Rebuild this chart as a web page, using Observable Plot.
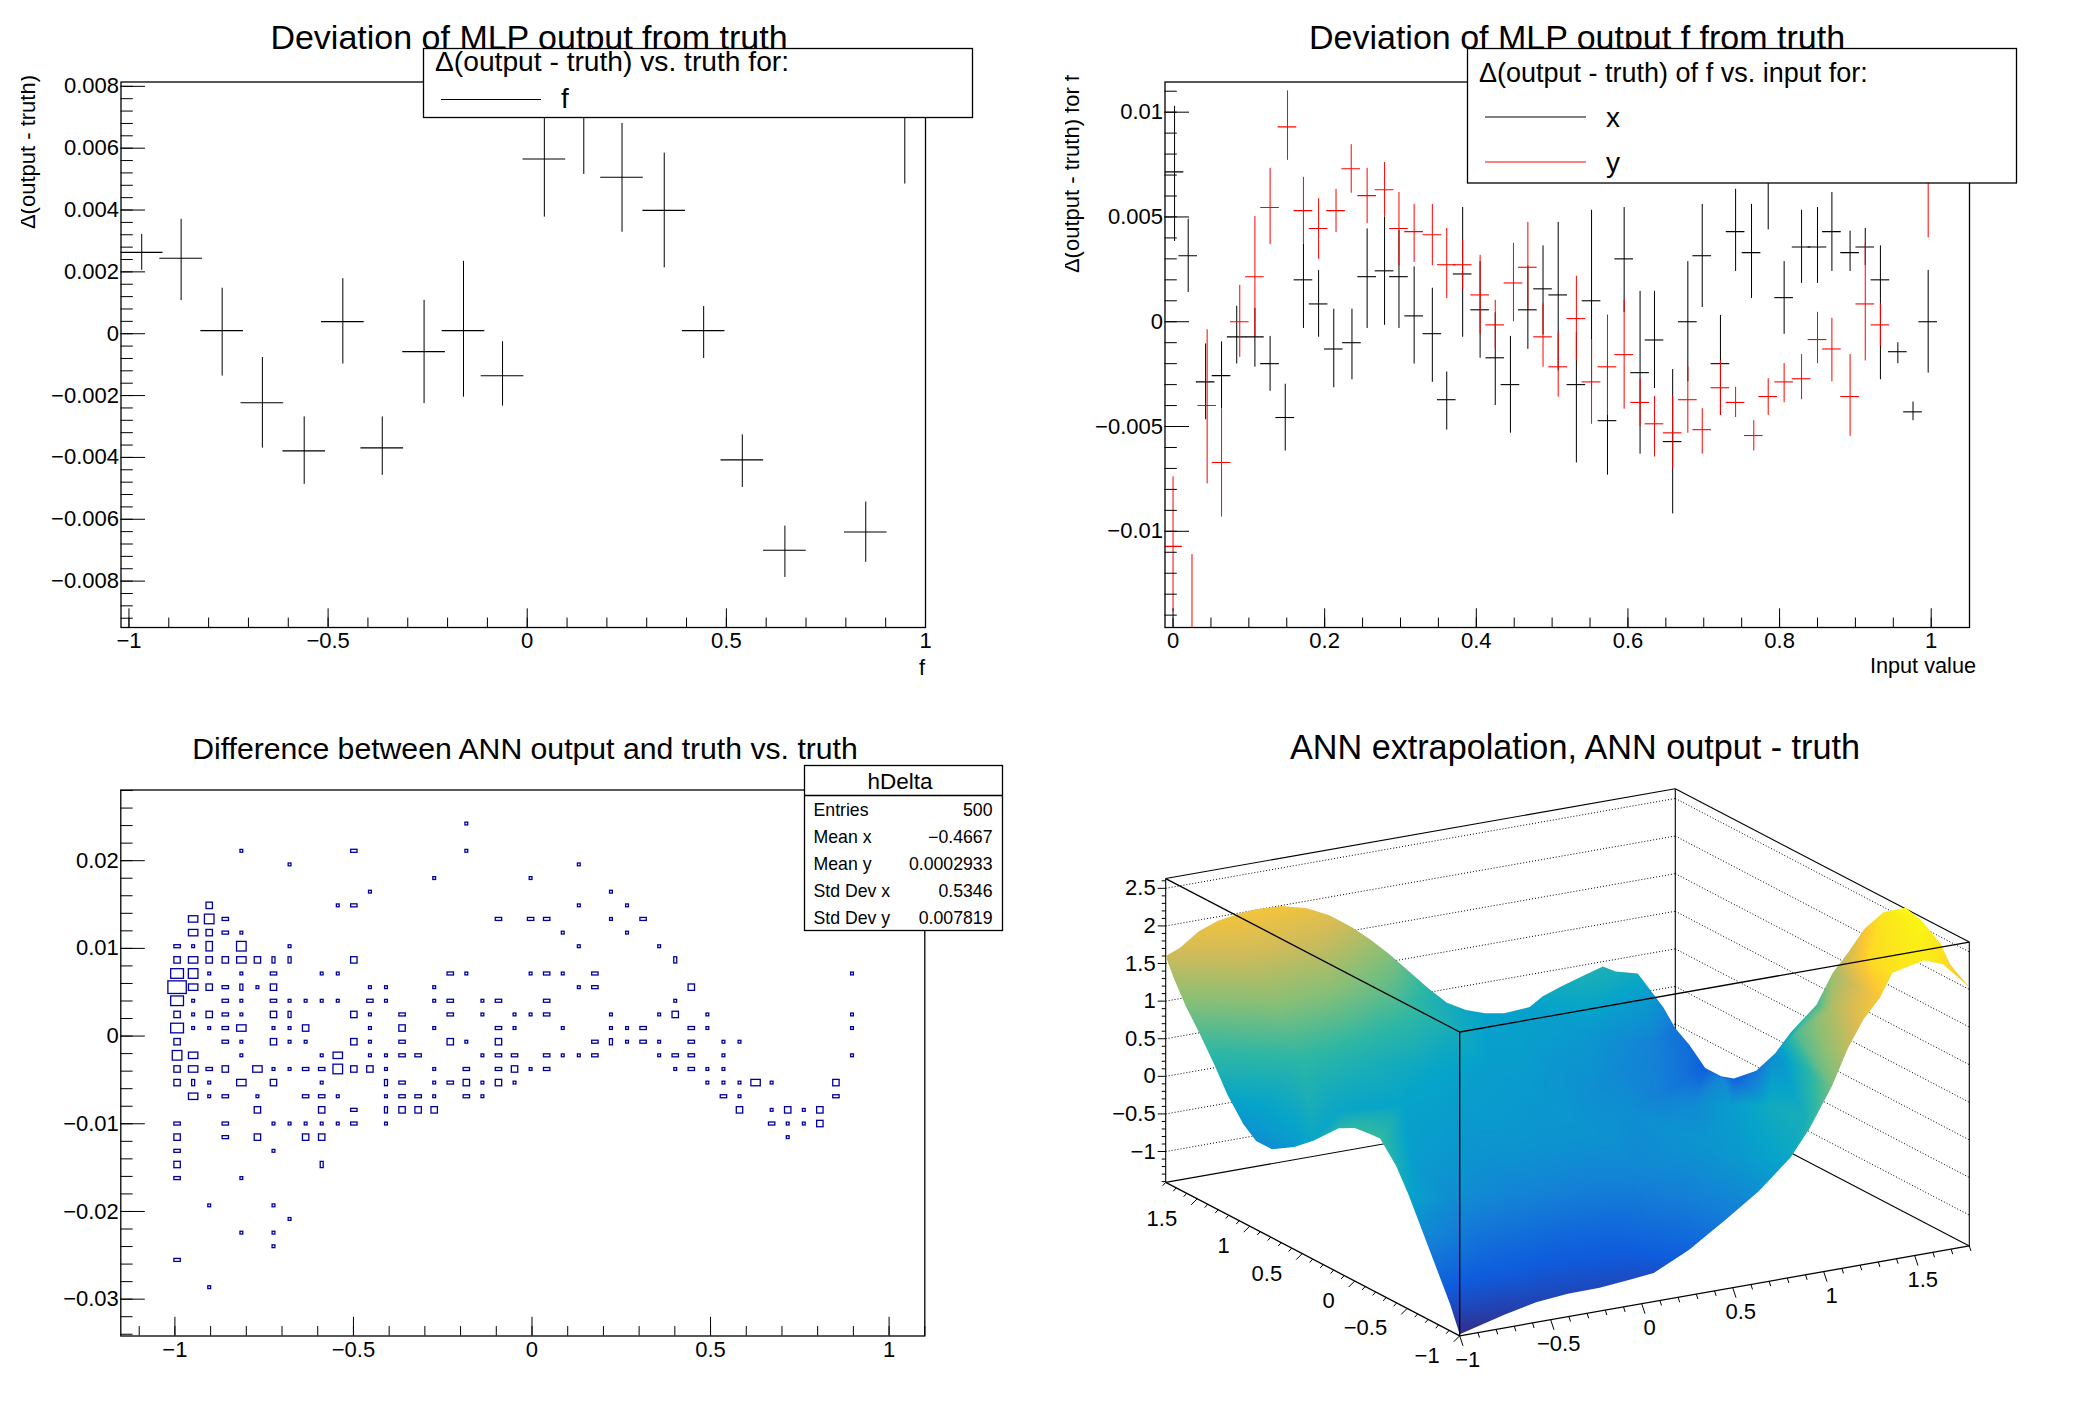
<!DOCTYPE html>
<html><head><meta charset="utf-8">
<script src="https://cdn.jsdelivr.net/npm/d3@7"></script>
<script src="https://cdn.jsdelivr.net/npm/@observablehq/plot@0.6"></script>
<style>
html,body{margin:0;padding:0;background:#fff;}
#page{position:relative;width:2088px;height:1416px;overflow:hidden;font-family:"Liberation Sans",Arial,sans-serif;}
#page>svg{position:absolute;}
</style></head><body><div id="page"></div>
<script>
// ---------- Panel 1: deviation vs truth ----------
const fX=[-0.968,-0.869,-0.766,-0.665,-0.560,-0.463,-0.364,-0.259,-0.160,-0.062,0.043,0.142,0.238,0.344,0.443,0.540,0.647,0.850,0.948];
const fY=[0.00263,0.00244,0.0001,-0.00223,-0.00379,0.00039,-0.00369,-0.00058,0.0001,-0.00136,0.00565,0.0073,0.00506,0.00399,0.0001,-0.00408,-0.0070,-0.00641,0.0075];
const fHi=[0.00321,0.0037,0.00147,-0.00077,-0.00269,0.00178,-0.00269,0.00108,0.00234,-0.00026,0.0076,0.0095,0.0068,0.00584,0.00088,-0.00327,-0.00622,-0.00544,0.0100];
const fLo=[0.00205,0.00107,-0.00137,-0.0037,-0.00487,-0.00098,-0.00458,-0.00226,-0.00205,-0.00234,0.00377,0.00515,0.00328,0.00213,-0.0008,-0.00497,-0.00788,-0.00739,0.00484];

// ---------- Panel 2: deviation vs input ----------
const inX=[0.002,0.020,0.043,0.064,0.084,0.108,0.128,0.148,0.172,0.192,0.212,0.236,0.256,0.279,0.298,0.318,0.342,0.361,0.382,0.405,0.425,0.445,0.468,0.488,0.508,0.532,0.552,0.573,0.595,0.616,0.635,0.659,0.679,0.698,0.722,0.742,0.763,0.785,0.806,0.829,0.850,0.869,0.893,0.913,0.933,0.956,0.976,0.996];
const inY=[0.00715,0.00315,-0.00287,-0.00257,-0.00072,-0.00072,-0.002,-0.00457,0.002,0.00085,-0.0013,-0.001,0.00215,0.00243,0.00215,0.00028,-0.00057,-0.00372,0.00228,0.00057,-0.00172,-0.003,0.00057,0.00157,0.00128,-0.003,0.001,-0.00472,0.003,-0.00243,-0.00087,-0.00572,0,0.00315,-0.002,0.0043,0.0033,0.007,0.00115,0.00357,0.00357,0.0043,0.0033,0.00357,0.002,-0.00143,-0.0043,0];
const inHi=[0.01028,0.00489,-0.00106,-0.00096,0.00074,0.00064,-0.0007,-0.00298,0.00372,0.00245,0.0006,0.0006,0.00443,0.005,0.00436,0.00262,0.0016,-0.0024,0.00545,0.00287,0.00043,-0.0007,0.00266,0.00362,0.00474,-0.00053,0.00532,-0.00191,0.00545,0.00145,0.00145,-0.00228,0.00287,0.0056,0.0003,0.00632,0.0056,0.0095,0.00287,0.00532,0.00545,0.00617,0.00432,0.00445,0.00362,-0.001,-0.00383,0.00245];
const inLo=[0.00383,0.0014,-0.00468,-0.00415,-0.00202,-0.00217,-0.00332,-0.00617,-0.00032,-0.00074,-0.00315,-0.00277,-0.00032,-0.00017,-0.00032,-0.00202,-0.00289,-0.00517,-0.00074,-0.00174,-0.004,-0.00532,-0.00132,-0.00064,-0.00234,-0.00674,-0.00319,-0.00732,0.00043,-0.00632,-0.00319,-0.00917,-0.00287,0.00068,-0.00447,0.0024,0.00111,0.00438,-0.0006,0.00183,0.00183,0.0024,0.0024,0.00268,-0.00277,-0.002,-0.00472,-0.00245];

const redX=[0,0.025,0.045,0.064,0.088,0.108,0.128,0.151,0.172,0.192,0.215,0.235,0.256,0.279,0.298,0.318,0.342,0.361,0.382,0.405,0.425,0.449,0.468,0.488,0.508,0.532,0.552,0.573,0.595,0.616,0.635,0.659,0.679,0.698,0.722,0.742,0.766,0.785,0.806,0.829,0.850,0.869,0.893,0.913,0.933,0.996];
const redY=[-0.01072,-0.015,-0.004,-0.00672,0,0.00215,0.00545,0.0093,0.0053,0.00445,0.0053,0.0073,0.00602,0.0063,0.00445,0.0043,0.00415,0.00272,0.00272,0.00128,-0.00015,0.00185,0.0026,-0.00072,-0.00215,0.00015,-0.00287,-0.00215,-0.00157,-0.00385,-0.00487,-0.0053,-0.00372,-0.00515,-0.00315,-0.00385,-0.00543,-0.00357,-0.00287,-0.00272,-0.00085,-0.0013,-0.00357,0.00085,-0.00015,0.0072];
const redHi=[-0.0074,-0.01111,-0.00038,-0.00415,0.00174,0.00502,0.00732,0.01102,0.00689,0.00587,0.00632,0.00845,0.00732,0.0076,0.00617,0.0056,0.0056,0.00445,0.00387,0.00317,0.00102,0.00374,0.00474,0.00085,-0.00053,0.00217,-0.00085,0.00032,0.00102,-0.00272,-0.00357,-0.00357,-0.00215,-0.00415,-0.00185,-0.00313,-0.00472,-0.00272,-0.002,-0.00157,0.00045,0.00017,-0.00157,0.00372,0.00085,0.0105];
const redLo=[-0.01383,-0.019,-0.00774,-0.00932,-0.0017,-0.00072,0.00368,0.0077,0.00372,0.00298,0.00426,0.00613,0.00468,0.005,0.00266,0.00283,0.00268,0.00111,0.00153,-0.0006,-0.00128,0,0.00057,-0.00217,-0.0036,-0.00187,-0.00489,-0.00447,-0.00417,-0.005,-0.00645,-0.00702,-0.00532,-0.00632,-0.00447,-0.00457,-0.00617,-0.00447,-0.00387,-0.00372,-0.002,-0.00287,-0.00547,-0.00187,-0.00117,0.004];

// ---------- Panel 3: 2-D histogram (y bin value, then [x bin index, box class]) ----------
const histRowY=[0.02418,0.02107,0.01952,0.01796,0.01641,0.01485,0.0133,0.01174,0.01019,0.00863,0.00708,0.00552,0.00397,0.00241,0.00086,-0.0007,-0.00225,-0.00381,-0.00536,-0.00692,-0.00847,-0.01003,-0.01158,-0.01314,-0.0147,-0.01625,-0.01936,-0.02091,-0.02247,-0.02402,-0.02558,-0.02869];
const histRowCells=[
[[18,1]],
[[4,1],[11,2],[18,1]],
[[7,1],[25,1]],
[[16,1],[22,1]],
[[12,1],[27,1]],
[[2,4],[10,1],[11,2],[25,1],[28,1]],
[[1,5],[2,6],[3,2],[20,2],[22,2],[23,2],[27,1],[29,2]],
[[1,5],[2,4],[3,2],[4,1],[24,1],[28,1]],
[[0,2],[1,1],[2,9],[4,6],[7,1],[25,1],[30,1]],
[[0,4],[1,5],[2,4],[3,4],[4,5],[5,4],[6,3],[7,3],[11,4],[31,3]],
[[0,7],[1,6],[2,1],[4,1],[6,2],[9,1],[10,1],[17,2],[18,1],[22,1],[23,2],[24,1],[26,2],[42,1]],
[[0,8],[1,5],[2,4],[3,2],[4,3],[5,1],[6,4],[12,1],[13,1],[16,1],[25,1],[26,2],[32,4]],
[[0,7],[1,1],[3,2],[4,1],[6,2],[7,1],[8,1],[9,1],[10,1],[12,2],[13,1],[16,1],[17,2],[19,1],[20,2],[23,2],[31,1]],
[[0,4],[1,1],[2,4],[3,2],[4,1],[6,4],[7,3],[11,4],[12,1],[14,2],[17,2],[19,1],[21,1],[22,1],[23,2],[27,1],[30,1],[31,4],[33,1],[42,1]],
[[0,7],[1,1],[2,1],[3,2],[4,5],[6,1],[7,1],[8,4],[12,1],[14,4],[16,1],[20,2],[21,1],[24,1],[27,1],[28,1],[29,2],[32,2],[33,1],[42,1]],
[[0,4],[3,2],[4,1],[6,4],[7,1],[8,1],[11,4],[12,1],[14,2],[17,4],[18,1],[20,4],[26,2],[27,3],[28,1],[29,2],[30,1],[32,2],[34,1],[35,1]],
[[0,6],[1,5],[4,1],[9,1],[10,5],[12,1],[13,1],[14,2],[15,2],[19,1],[20,2],[21,2],[23,2],[24,1],[25,1],[26,2],[30,1],[31,2],[32,2],[34,1],[42,1]],
[[0,4],[1,5],[2,2],[3,4],[5,5],[6,1],[7,1],[8,2],[9,2],[10,6],[11,4],[12,4],[13,1],[16,1],[18,2],[20,2],[21,4],[22,1],[23,2],[31,1],[32,2],[33,1],[34,1]],
[[0,4],[1,3],[2,1],[4,5],[6,4],[9,1],[13,3],[14,2],[16,1],[17,2],[18,4],[19,1],[20,4],[21,1],[33,1],[34,1],[35,1],[36,5],[37,1],[41,4]],
[[1,5],[2,1],[3,2],[5,1],[8,2],[9,2],[10,1],[13,1],[14,2],[15,2],[16,1],[18,2],[19,1],[34,2],[35,1],[41,2]],
[[5,4],[9,4],[11,2],[13,3],[14,4],[15,4],[16,4],[35,4],[37,1],[38,4],[39,1],[40,4]],
[[0,2],[3,2],[6,1],[7,1],[8,1],[9,1],[10,1],[11,2],[13,1],[37,2],[38,1],[39,1],[40,4]],
[[0,4],[3,2],[5,4],[8,4],[9,4],[38,1]],
[[0,2],[6,1]],
[[0,4],[9,3]],
[[0,2],[4,1]],
[[2,1],[6,1]],
[[7,1]],
[[4,1],[6,1]],
[[6,1]],
[[0,2]],
[[2,1]]
];

// ---------- Panel 4: surface read along its four edges and at inner nodes ----------
const edgeFrontX=[-1,-0.755,-0.58,-0.406,-0.231,-0.056,0.066,0.259,0.469,0.643,0.818,0.923,1.045,1.133,1.22,1.308,1.378,1.552,1.657,1.8];
const edgeFrontZ=[-1.39,-1.236,-1.143,-1.106,-1.098,-1.061,-1.03,-0.805,-0.476,-0.188,0.184,0.53,1.037,1.502,1.855,2.097,2.402,2.495,2.394,2.03];
const edgeRightY=[-1,-0.818,-0.727,-0.545,-0.394,-0.182,0,0.152,0.303,0.455,0.697,0.848,1.03,1.242,1.364,1.515,1.667,1.8];
const edgeRightZ=[2.03,2.2,2.41,2.587,2.644,2.432,2.076,1.657,1.267,0.737,0.197,-0.193,-0.561,-0.816,-0.878,-0.876,-0.68,-0.555];
const edgeBackX=[-1,-0.923,-0.818,-0.713,-0.608,-0.503,-0.364,-0.224,-0.101,0.021,0.126,0.231,0.336,0.441,0.545,0.65,0.755,0.86,1.0,1.07,1.175,1.297,1.402,1.472,1.594,1.647,1.734,1.8];
const edgeBackZ=[1.6,1.674,1.853,1.948,1.987,2.009,1.992,1.903,1.758,1.549,1.336,1.096,0.827,0.558,0.318,0.178,0.088,0.044,0.067,0.177,0.271,0.359,0.436,0.339,0.259,0.069,-0.248,-0.555];
const edgeLeftY=[-1,-0.909,-0.788,-0.636,-0.515,-0.394,-0.242,-0.152,0,0.152,0.394,0.576,0.788,0.939,1.06,1.212,1.333,1.485,1.606,1.727,1.8];
const edgeLeftZ=[-1.39,-1.058,-0.7,-0.253,0.107,0.409,0.661,0.651,0.624,0.512,0.168,-0.049,-0.232,-0.231,-0.097,0.182,0.484,0.822,1.068,1.37,1.6];
const innerX=[-0.65,-0.3,0.05,0.4,0.75,1.1,1.45];
const innerY=[-0.65,-0.3,0.05,0.4,0.75,1.1,1.45];
const innerZ=[
[-0.75,-0.85,-0.8,-0.45,-0.05,0.35,2.3],
[-0.2,-0.35,-0.4,-0.3,-0.1,0.25,1.4],
[0,-0.15,-0.15,-0.15,-0.15,0,0.8],
[0.05,0,-0.05,-0.1,-0.2,-0.25,0.15],
[0.15,0.1,0,-0.05,-0.2,-0.4,-0.3],
[0.6,0.4,0.15,0,-0.1,-0.3,-0.6],
[1.3,1.2,0.8,0.3,0.05,-0.05,-0.35]];
const zTicks=[-1,-0.5,0,0.5,1,1.5,2,2.5];
const xyTicks=[-1,-0.5,0,0.5,1,1.5];
const statNames=["Entries","Mean x","Mean y","Std Dev x","Std Dev y"];
const statValues=["500","−0.4667","0.0002933","0.5346","0.007819"];

// ---------- helpers ----------
const page=document.getElementById("page");
const minus=d=>String(d).replace("-","−");
const M={marginLeft:120.5,marginRight:119,marginTop:81.5,marginBottom:81};
const FS="Liberation Sans";
function place(svg,left,top){svg.style.left=left+"px";svg.style.top=top+"px";page.appendChild(svg);}
function axisMarks(xd,yd,xMaj,xMin,yMaj,yMin){
  const xs=(xd[1]-xd[0])/803.5, ys=(yd[1]-yd[0])/545.5;
  const inX=d=>d>=xd[0]&&d<=xd[1], inY=d=>d>=yd[0]&&d<=yd[1];
  return [
    Plot.ruleX(xMaj.filter(inX),{x:d=>d,y1:yd[0],y2:yd[0]+18.7*ys,stroke:"#000",strokeWidth:1}),
    Plot.ruleX(xMin.filter(inX),{x:d=>d,y1:yd[0],y2:yd[0]+9.4*ys,stroke:"#000",strokeWidth:1}),
    Plot.ruleY(yMaj.filter(inY),{y:d=>d,x1:xd[0],x2:xd[0]+24.5*xs,stroke:"#000",strokeWidth:1}),
    Plot.ruleY(yMin.filter(inY),{y:d=>d,x1:xd[0],x2:xd[0]+12.3*xs,stroke:"#000",strokeWidth:1}),
    Plot.axisX({ticks:xMaj.filter(inX),tickSize:0,tickPadding:5,tickFormat:minus,label:null,fontSize:22}),
    Plot.axisY({ticks:yMaj.filter(inY),tickSize:0,tickPadding:2,tickFormat:minus,label:null,fontSize:22}),
    Plot.frame({stroke:"#000",strokeWidth:1.3})
  ];
}
const errs=(xs,ys,hi,lo,hw,color)=>{
  const t=xs.map((x,i)=>({x,y:ys[i],hi:hi[i],lo:lo[i]}));
  return [
    Plot.ruleX(t,{x:"x",y1:"lo",y2:"hi",stroke:color,strokeWidth:1,clip:true}),
    Plot.ruleY(t,{y:"y",x1:d=>d.x-hw,x2:d=>d.x+hw,stroke:color,strokeWidth:1.1,clip:true})
  ];
};
const base={width:1044,height:708,...M,style:{fontFamily:FS,color:"#000",background:"transparent",overflow:"visible"}};

// Panel 1
{
  const xd=[-1.02,1], yd=[-0.0095,0.00814];
  place(Plot.plot({...base,x:{domain:xd},y:{domain:yd},marks:[
    ...errs(fX,fY,fHi,fLo,0.0535,"#000"),
    ...axisMarks(xd,yd,[-1,-0.5,0,0.5,1],d3.range(-1,1.01,0.1).map(v=>+v.toFixed(1)),
      [-0.008,-0.006,-0.004,-0.002,0,0.002,0.004,0.006,0.008],d3.range(-0.0092,0.0081,0.0004).map(v=>+v.toFixed(4)))
  ]}),0,0);
}
// Panel 2
{
  const xd=[-0.0106,1.0505], yd=[-0.01459,0.01144];
  place(Plot.plot({...base,x:{domain:xd},y:{domain:yd},marks:[
    ...errs(inX,inY,inHi,inLo,0.0123,"#000"),
    ...errs(redX,redY,redHi,redLo,0.0123,"#ff0000"),
    ...axisMarks(xd,yd,[0,0.2,0.4,0.6,0.8,1],d3.range(0,1.04,0.05).map(v=>+v.toFixed(2)),
      [-0.01,-0.005,0,0.005,0.01],d3.range(-0.014,0.0111,0.001).map(v=>+v.toFixed(3)))
  ]}),1044,0);
}
// Panel 3
{
  const xd=[-1.1515,1.1], yd=[-0.0342,0.02806];
  const binX=k=>-0.9925+0.045*k;
  const boxSize={1:[2.8,2.8],2:[6.4,3],3:[3,6.2],4:[6.4,6.4],5:[9.4,6.4],6:[9.6,9.6],7:[12.8,9.6],8:[18.4,12.6],9:[6.4,9.4]};
  const cells=histRowY.flatMap((y,j)=>histRowCells[j].map(([k,c])=>{
    const [w,h]=boxSize[c], hw=w/2/357.3, hh=h/2/8760;
    return {x1:binX(k)-hw,x2:binX(k)+hw,y1:y-hh,y2:y+hh};
  }));
  place(Plot.plot({...base,marginLeft:120.3,marginRight:119.7,marginBottom:80.5,x:{domain:xd},y:{domain:yd},marks:[
    Plot.rect(cells,{x1:"x1",x2:"x2",y1:"y1",y2:"y2",fill:"none",stroke:"#0000a0",strokeWidth:1.3}),
    ...axisMarks(xd,yd,[-1,-0.5,0,0.5,1],d3.range(-1.1,1.11,0.1).map(v=>+v.toFixed(1)),
      [-0.03,-0.02,-0.01,0,0.01,0.02],d3.range(-0.034,0.0281,0.002).map(v=>+v.toFixed(3)))
  ]}),0,708);
}
// Panel 4
{
  const xMin=-1,yMin=-1,zMin=-1.41,top=2.63,far=1.8;
  const P=(x,y,z)=>({px:415.2+182*(x-xMin)-105*(y-yMin),py:627.3-32.1*(x-xMin)-54.8*(y-yMin)-75.2*(z-zMin)});
  const edge=[
    ...edgeFrontX.map((x,i)=>({...P(x,yMin,edgeFrontZ[i]),z:edgeFrontZ[i]})),
    ...edgeRightY.map((y,i)=>({...P(far,y,edgeRightZ[i]),z:edgeRightZ[i]})),
    ...edgeBackX.map((x,i)=>({...P(x,far,edgeBackZ[i]),z:edgeBackZ[i]})).reverse(),
    ...edgeLeftY.map((y,i)=>({...P(xMin,y,edgeLeftZ[i]),z:edgeLeftZ[i]})).reverse()
  ];
  const inner=innerY.flatMap((y,j)=>innerX.map((x,i)=>({...P(x,y,innerZ[j][i]),z:innerZ[j][i]})));
  const seg=(a,b)=>({x1:a.px,y1:a.py,x2:b.px,y2:b.py});
  const C=(x,y,z)=>P(x,y,z);
  const back=[
    seg(C(xMin,far,zMin),C(xMin,far,top)),seg(C(xMin,far,top),C(far,far,top)),seg(C(far,far,top),C(far,yMin,top)),
    seg(C(far,yMin,top),C(far,yMin,zMin)),seg(C(far,far,zMin),C(far,far,top)),
    seg(C(xMin,far,zMin),C(far,far,zMin)),seg(C(far,far,zMin),C(far,yMin,zMin))
  ];
  const front=[
    seg(C(xMin,yMin,zMin),C(xMin,yMin,top)),seg(C(xMin,yMin,top),C(xMin,far,top)),seg(C(xMin,yMin,top),C(far,yMin,top)),
    seg(C(xMin,yMin,zMin),C(far,yMin,zMin)),seg(C(xMin,yMin,zMin),C(xMin,far,zMin))
  ];
  const grid=zTicks.flatMap(z=>[seg(C(xMin,far,z),C(far,far,z)),seg(C(far,far,z),C(far,yMin,z))]);
  const link=(d,o)=>Plot.link(d,{x1:"x1",y1:"y1",x2:"x2",y2:"y2",stroke:"#000",...o});
  const off=(a,dx,dy)=>({x1:a.px,y1:a.py,x2:a.px+dx,y2:a.py+dy});
  const minorSteps=d3.range(-1,1.81,0.1).map(v=>+v.toFixed(1));
  const isMajor=v=>Math.abs(v*2-Math.round(v*2))<1e-6;
  const xTickSegs=minorSteps.map(v=>isMajor(v)?off(C(v,yMin,zMin),3.3,10):off(C(v,yMin,zMin),1.6,5));
  const yTickSegs=minorSteps.map(v=>isMajor(v)?off(C(xMin,v,zMin),-6,6):off(C(xMin,v,zMin),-3,3.4));
  const zTickSegs=d3.range(-1.4,2.61,0.1).map(v=>+v.toFixed(1)).map(v=>isMajor(v)?off(C(xMin,far,v),-8,0):off(C(xMin,far,v),-4,0));
  const birdStops=d3.range(0,9).map(i=>zMin+4.05*i/8);
  const birdColors=["rgb(53,42,135)","rgb(15,92,221)","rgb(20,129,214)","rgb(6,164,202)","rgb(46,183,164)","rgb(135,191,119)","rgb(209,187,89)","rgb(254,200,50)","rgb(249,251,14)"];
  const clipSurface=(index,scales,values,dims,ctx,next)=>{
    const g=next(index,scales,values,dims,ctx);
    const ns="http://www.w3.org/2000/svg";
    const doc=g.ownerDocument;
    const cp=doc.createElementNS(ns,"clipPath");cp.setAttribute("id","surfClip");
    const pg=doc.createElementNS(ns,"polygon");
    pg.setAttribute("points",edge.map(d=>scales.x(d.px)+","+scales.y(d.py)).join(" "));
    cp.appendChild(pg);g.appendChild(cp);g.setAttribute("clip-path","url(#surfClip)");
    return g;
  };
  place(Plot.plot({width:1044,height:708,marginLeft:0,marginRight:0,marginTop:0,marginBottom:0,
    style:{fontFamily:FS,color:"#000",background:"transparent"},
    x:{domain:[0,1044],axis:null},y:{domain:[0,708],range:[0,708],axis:null},
    color:{type:"linear",domain:birdStops,range:birdColors,interpolate:"rgb",clamp:true},
    marks:[
      link(grid,{strokeWidth:1,strokeDasharray:"1,2"}),
      link(back,{strokeWidth:1.1}),
      Plot.raster([...edge,...inner],{x:"px",y:"py",fill:"z",interpolate:"barycentric",pixelSize:2,render:clipSurface}),
      link(front,{strokeWidth:1.3}),
      link(xTickSegs,{strokeWidth:1}),link(yTickSegs,{strokeWidth:1}),link(zTickSegs,{strokeWidth:1}),
      Plot.text(zTicks,{x:z=>C(xMin,far,z).px,y:z=>C(xMin,far,z).py,text:minus,dx:-10,textAnchor:"end",fontSize:22}),
      Plot.text(xyTicks,{x:v=>C(v,yMin,zMin).px,y:v=>C(v,yMin,zMin).py,text:minus,dx:8,dy:24,textAnchor:"middle",fontSize:22}),
      Plot.text(xyTicks,{x:v=>C(xMin,v,zMin).px,y:v=>C(xMin,v,zMin).py,text:minus,dx:-20,dy:20,textAnchor:"end",fontSize:22})
    ]}),1044,708);
}

// ---------- titles, legends, stats box (text chrome above the plots) ----------
const over=d3.create("svg").attr("width",2088).attr("height",1416).style("left","0").style("top","0").style("font-family",FS);
const txt=(s,x,y,size,anchor="start")=>over.append("text").text(s).attr("x",x).attr("y",y).attr("font-size",size).attr("text-anchor",anchor).attr("fill","#000");
const line=(x1,y1,x2,y2,c="#000",w=1.3)=>over.append("line").attr("x1",x1).attr("y1",y1).attr("x2",x2).attr("y2",y2).attr("stroke",c).attr("stroke-width",w);
const box=(x1,y1,x2,y2)=>over.append("rect").attr("x",x1).attr("y",y1).attr("width",x2-x1).attr("height",y2-y1).attr("fill","#fff").attr("stroke","#000").attr("stroke-width",1.3);

txt("Deviation of MLP output from truth",529,48.5,34,"middle");
txt("Deviation of MLP output f from truth",1577,48.5,34,"middle");
txt("Difference between ANN output and truth vs. truth",525,759,30.2,"middle");
txt("ANN extrapolation, ANN output - truth",1575,759,34.2,"middle");

// legends
box(423.5,48.5,972.5,117.5);
txt("Δ(output - truth) vs. truth for:",435,71,28.2);
line(441,99.5,541,99.5,"#000",1);
txt("f",561,108,28);
box(1467.5,48.5,2016.5,183);
txt("Δ(output - truth) of f vs. input for:",1479,82,27);
line(1485,117,1586,117,"#000",1);
txt("x",1606,127,28);
line(1485,162,1586,162,"#ff0000",1);
txt("y",1606,172,28);

// axis titles
txt("f",925,675,21.7,"end");
txt("Input value",1976,673,21.7,"end");
const defs=over.append("defs");
defs.append("clipPath").attr("id","ylab").append("rect").attr("x",21).attr("y",60).attr("width",300).attr("height",300);
const yl=over.append("g").attr("clip-path","url(#ylab)");
yl.append("text").text("Δ(output - truth)").attr("transform","translate(35,75) rotate(-90)").attr("text-anchor","end").attr("font-size",22);
defs.append("clipPath").attr("id","ylab2").append("rect").attr("x",1065).attr("y",60).attr("width",300).attr("height",300);
const yl2=over.append("g").attr("clip-path","url(#ylab2)");
yl2.append("text").text("Δ(output - truth) for f").attr("transform","translate(1079,75) rotate(-90)").attr("text-anchor","end").attr("font-size",22);

// stats box
box(804.5,765.5,1002.5,930.5);
line(804.5,795.5,1002.5,795.5);
txt("hDelta",900,789,22.5,"middle");
const rowBase=[816,843,870,897,923.5];
statNames.forEach((s,i)=>{txt(s,813.5,rowBase[i],17.7);txt(statValues[i],992.5,rowBase[i],17.7,"end");});
page.appendChild(over.node());
</script></body></html>
